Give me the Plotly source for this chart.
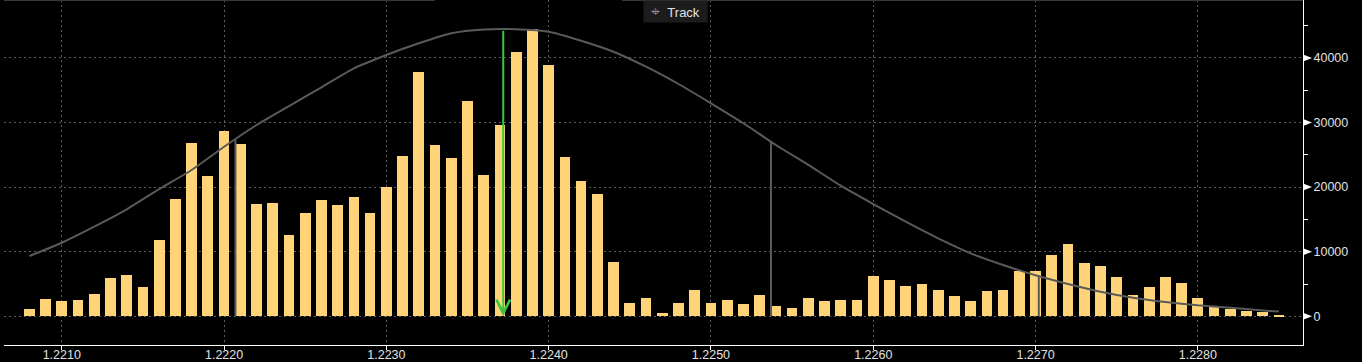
import plotly.graph_objects as go

# ---- data ----
price_levels = [
    1.2208, 1.2209, 1.2210, 1.2211, 1.2212, 1.2213, 1.2214, 1.2215, 1.2216, 1.2217,
    1.2218, 1.2219, 1.2220, 1.2221, 1.2222, 1.2223, 1.2224, 1.2225, 1.2226, 1.2227,
    1.2228, 1.2229, 1.2230, 1.2231, 1.2232, 1.2233, 1.2234, 1.2235, 1.2236, 1.2237,
    1.2238, 1.2239, 1.2240, 1.2241, 1.2242, 1.2243, 1.2244, 1.2245, 1.2246, 1.2247,
    1.2248, 1.2249, 1.2250, 1.2251, 1.2252, 1.2253, 1.2254, 1.2255, 1.2256, 1.2257,
    1.2258, 1.2259, 1.2260, 1.2261, 1.2262, 1.2263, 1.2264, 1.2265, 1.2266, 1.2267,
    1.2268, 1.2269, 1.2270, 1.2271, 1.2272, 1.2273, 1.2274, 1.2275, 1.2276, 1.2277,
    1.2278, 1.2279, 1.2280, 1.2281, 1.2282, 1.2283, 1.2284, 1.2285,
]
volumes = [
    1100, 2680, 2370, 2520, 3450, 5930, 6390, 4540, 11810, 18160,
    26830, 21720, 28680, 26670, 17380, 17540, 12590, 15990, 18000, 17230,
    18470, 15990, 20020, 24810, 37820, 26520, 24500, 33330, 21870, 29610,
    40910, 44430, 38900, 24660, 20940, 18930, 8410, 2060, 2830, 510,
    2060, 4070, 2060, 2520, 1900, 3300, 1590, 1280, 2830, 2370,
    2520, 2520, 6240, 5620, 4690, 5000, 4070, 3140, 2370, 3920,
    4070, 7010, 7010, 9490, 11190, 8250, 7790, 6080, 3300, 4540,
    6080, 5150, 2830, 1590, 1080, 870, 710, 250,
]

curve_prices = [
    1.2208, 1.2210, 1.2212, 1.2214, 1.2216, 1.2218, 1.2220, 1.2222, 1.2224, 1.2226,
    1.2228, 1.2230, 1.2232, 1.2234, 1.2236, 1.2238, 1.2240, 1.2242, 1.2244, 1.2246,
    1.2248, 1.2250, 1.2252, 1.2254, 1.2256, 1.2258, 1.2260, 1.2262, 1.2264, 1.2266,
    1.2268, 1.2270, 1.2272, 1.2274, 1.2276, 1.2278, 1.2280, 1.2282, 1.2284, 1.2285,
]
curve_values = [
    9330, 11390, 13870, 16560, 19700, 22650, 26250, 29610, 32550, 35450,
    38390, 40450, 42260, 43810, 44400, 44430, 44060, 42660, 40960, 38640,
    35960, 32970, 29880, 26520, 23430, 20220, 17380, 14640, 12070, 9750,
    7940, 6350, 5000, 3810, 2880, 2210, 1700, 1330, 900, 750,
]

sigma_prices = [1.22207, 1.22537, 1.22702]
sigma_heights = [27300, 27000, 6300]

mean_price = 1.22372
mean_height = 44430

x_ticks = [1.2210, 1.2220, 1.2230, 1.2240, 1.2250, 1.2260, 1.2270, 1.2280]
x_tick_labels = ["1.2210", "1.2220", "1.2230", "1.2240", "1.2250", "1.2260", "1.2270", "1.2280"]
y_ticks = [0, 10000, 20000, 30000, 40000]
y_tick_labels = ["0", "10000", "20000", "30000", "40000"]

# ---- styles ----
BAR_COLOR = "#FFD479"
CURVE_COLOR = "#5a5a5a"
GRID_COLOR = "#5c5c5c"
TEXT_COLOR = "#e2e2e2"
FONT = "Liberation Sans, Arial, sans-serif"

fig = go.Figure()

fig.add_trace(go.Bar(
    x=price_levels, y=volumes,
    marker=dict(color=BAR_COLOR, line=dict(width=0)),
    width=0.000066,
    hoverinfo="skip",
))

sx, sy = [], []
for p, h in zip(sigma_prices, sigma_heights):
    sx += [p, p, None]
    sy += [0, h, None]
fig.add_trace(go.Scatter(
    x=sx, y=sy, mode="lines",
    line=dict(color=CURVE_COLOR, width=2),
    hoverinfo="skip",
))

fig.add_trace(go.Scatter(
    x=curve_prices, y=curve_values, mode="lines",
    line=dict(color=CURVE_COLOR, width=2, shape="spline", smoothing=0.6),
    hoverinfo="skip",
))

# green arrow at the mean
fig.add_annotation(
    x=mean_price, y=0, ax=mean_price, ay=mean_height,
    xref="x", yref="y", axref="x", ayref="y",
    text="", showarrow=True,
    arrowhead=5, arrowsize=1.35, arrowwidth=2, arrowcolor="#3cc43c",
    standoff=0, startstandoff=0,
)

# "Track" box at the top
fig.add_annotation(
    xref="paper", yref="paper",
    x=(675.5 - 4) / 1299, y=1.0, xanchor="center", yanchor="top",
    text="<span style='color:#8a8a8a;font-size:16px'>⌖</span>&nbsp;&nbsp;Track",
    font=dict(family=FONT, size=13, color=TEXT_COLOR),
    bgcolor="#1c1c1c", width=63, height=21, borderpad=0,
    showarrow=False,
)

shapes = []
# top border line (broken as in reference)
shapes.append(dict(type="line", xref="paper", yref="paper",
                   x0=0, x1=(435 - 4) / 1299, y0=1, y1=1,
                   line=dict(color="#3a3a3a", width=2)))
shapes.append(dict(type="line", xref="paper", yref="paper",
                   x0=(622 - 4) / 1299, x1=1, y0=1, y1=1,
                   line=dict(color="#3a3a3a", width=2)))
# triangle markers on the right axis
for v in y_ticks:
    shapes.append(dict(type="path", xref="paper", yref="y",
                       xsizemode="pixel", ysizemode="pixel",
                       xanchor=1, yanchor=v,
                       path="M0,-3.5 L9,0 L0,3.5 Z",
                       fillcolor="#ffffff", line=dict(width=0)))

fig.update_layout(
    width=1362, height=362,
    margin=dict(l=4, r=59, t=0, b=17, autoexpand=False),
    paper_bgcolor="#000000", plot_bgcolor="#000000",
    showlegend=False, hovermode=False,
    bargap=0,
    shapes=shapes,
    font=dict(family=FONT, size=12.5, color=TEXT_COLOR),
)

fig.update_xaxes(
    range=[1.220644, 1.228648], automargin=False,
    tickvals=x_ticks, ticktext=x_tick_labels,
    showgrid=True, gridcolor=GRID_COLOR, griddash="2px,3px", gridwidth=1,
    showline=True, linecolor="#ffffff", linewidth=1,
    ticks="outside", ticklen=4, tickcolor="#ffffff",
    ticklabelstandoff=-6,
    tickfont=dict(family=FONT, size=12.5, color=TEXT_COLOR),
    zeroline=False,
)

fig.update_yaxes(
    side="right", automargin=False,
    range=[-4443, 48963],
    tickvals=y_ticks, ticktext=y_tick_labels,
    showgrid=True, gridcolor=GRID_COLOR, griddash="2px,3px", gridwidth=1,
    showline=True, linecolor="#ffffff", linewidth=1,
    ticks="outside", ticklen=7, tickcolor="rgba(0,0,0,0)",
    minor=dict(ticks="outside", ticklen=4, tickcolor="#ffffff", dtick=5000,
               tick0=0, showgrid=False),
    tickfont=dict(family=FONT, size=12.5, color=TEXT_COLOR),
    zeroline=False,
)

fig.write_html("out.html", config={"displayModeBar": False})
